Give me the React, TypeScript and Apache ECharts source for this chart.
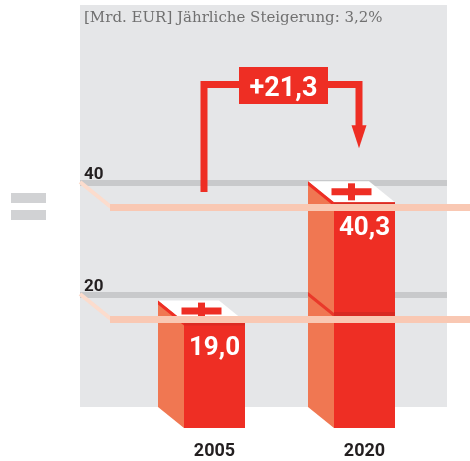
import React, { useEffect, useRef } from "react";
import * as echarts from "echarts";

const categories = ["2005", "2020"];
const values = [19.0, 40.3];
const gridTicks = [20, 40];
const title = "[Mrd. EUR] Jährliche Steigerung: 3,2%";

const RED = "#ee2e24";
const SIDE = "#f07752";
const PEACH = "#f9c8b3";
const HALF = 30.5;
const DX = 26;
const DY = 21;

const fmt = (v: number) => v.toFixed(1).replace(".", ",");

export default function App() {
  const ref = useRef<HTMLDivElement>(null);
  useEffect(() => {
    if (!ref.current) return;
    const chart = echarts.init(ref.current, null, { renderer: "svg" });
    const option: any = {
      animation: false,
      grid: { left: 139.5, top: 15, width: 300, height: 392 },
      xAxis: {
        type: "category",
        data: categories,
        axisLine: { show: false },
        axisTick: { show: false },
        axisLabel: {
          margin: 34,
          fontSize: 18,
          lineHeight: 16,
          fontWeight: "bold",
          fontFamily: "Roboto",
          color: "#231f20",
        },
      },
      yAxis: {
        type: "value",
        min: 0,
        max: 70,
        show: false,
        splitLine: { show: false },
      },
      graphic: [
        { type: "rect", z: -10, shape: { x: 80, y: 5, width: 367, height: 402 }, style: { fill: "#e5e6e8" } },
        { type: "rect", shape: { x: 11, y: 193, width: 35, height: 10 }, style: { fill: "#d1d2d4" } },
        { type: "rect", shape: { x: 11, y: 210, width: 35, height: 10 }, style: { fill: "#d1d2d4" } },
        {
          type: "text",
          x: 84,
          y: 17,
          style: {
            text: title,
            fill: "#707070",
            font: '15px "DejaVu Serif"',
            textVerticalAlign: "middle",
          },
        },
      ],
      series: [
        {
          type: "custom",
          z: 2,
          data: gridTicks.map((t) => [0, t]),
          renderItem: (params: any, api: any) => {
            const t = api.value(1);
            const y = api.coord([0, t])[1];
            return {
              type: "group",
              children: [
                { type: "rect", shape: { x: 80, y: y - 3, width: 367, height: 6 }, style: { fill: "#c8c9cb" } },
                {
                  type: "line",
                  shape: { x1: 80, y1: y - 1, x2: 111, y2: y + 24 },
                  style: { stroke: "#fcdccd", lineWidth: 4 },
                },
                {
                  type: "text",
                  x: 84,
                  y: y - 10,
                  style: {
                    text: String(t),
                    fill: "#231f20",
                    font: 'bold 17px "Roboto"',
                    textVerticalAlign: "middle",
                  },
                },
              ],
            };
          },
        },
        {
          type: "custom",
          z: 3,
          data: values.map((v, i) => [i, v]),
          renderItem: (params: any, api: any) => {
            const i = api.value(0);
            const v = api.value(1);
            const base = api.coord([i, 0]);
            const top = api.coord([i, v]);
            const cx = base[0];
            const fx0 = cx - HALF;
            const fx1 = cx + HALF;
            const yT = top[1] + DY;
            const yB = base[1] + DY;
            const bx0 = fx0 - DX;
            const bx1 = fx1 - DX;
            const children: any[] = [
              {
                type: "polygon",
                shape: { points: [[bx0, top[1]], [fx0, yT], [fx0, yB], [bx0, base[1]]] },
                style: { fill: SIDE },
              },
              { type: "rect", shape: { x: fx0, y: yT, width: fx1 - fx0, height: yB - yT }, style: { fill: RED } },
            ];
            gridTicks.forEach((t) => {
              if (v - t > 1) {
                const yl = api.coord([i, t])[1];
                children.push({
                  type: "polygon",
                  shape: { points: [[bx0, yl - 3], [fx0, yl - 3 + DY], [fx0, yl + 1 + DY], [bx0, yl + 1]] },
                  style: { fill: "#e9392a" },
                });
                children.push({
                  type: "rect",
                  shape: { x: fx0, y: yl + DY - 4, width: fx1 - fx0, height: 4 },
                  style: { fill: "#d82a21" },
                });
              }
            });
            const tcx = cx - DX / 2;
            const tcy = top[1] + DY / 2;
            children.push(
              {
                type: "polygon",
                shape: { points: [[bx0, top[1]], [bx1, top[1]], [fx1, yT], [fx0, yT]] },
                style: { fill: "#ffffff" },
              },
              {
                type: "polygon",
                shape: { points: [[bx0, top[1]], [fx0, yT], [fx0, yT + 4], [bx0, top[1] + 4]] },
                style: { fill: RED },
              },
              { type: "rect", shape: { x: fx0, y: yT, width: fx1 - fx0, height: 4 }, style: { fill: "#dc2b22" } },
              { type: "rect", shape: { x: tcx - 20, y: tcy - 3.5, width: 40, height: 7 }, style: { fill: RED } },
              { type: "rect", shape: { x: tcx - 3.5, y: tcy - 8.5, width: 7, height: 17 }, style: { fill: RED } },
              {
                type: "text",
                x: cx,
                y: yT + 24,
                style: {
                  text: fmt(v),
                  fill: "#ffffff",
                  font: 'bold 26px "Roboto"',
                  textAlign: "center",
                  textVerticalAlign: "middle",
                },
              }
            );
            if (params.dataIndex === values.length - 1) {
              const x0 = api.coord([0, 0])[0] - 10.5;
              const x1 = cx - 5.5;
              const tipY = top[1] - 33;
              const hy = 84.5;
              const mid = (x0 + x1) / 2 + 2;
              children.push(
                {
                  type: "polyline",
                  shape: { points: [[x0, 192], [x0, hy], [x1, hy], [x1, tipY - 22]] },
                  style: { stroke: RED, lineWidth: 7, fill: "none", lineJoin: "miter" },
                },
                {
                  type: "polygon",
                  shape: { points: [[x1 - 7.5, tipY - 23], [x1 + 7.5, tipY - 23], [x1, tipY]] },
                  style: { fill: RED },
                },
                { type: "rect", shape: { x: mid - 44.5, y: 67, width: 89, height: 37 }, style: { fill: RED } },
                {
                  type: "text",
                  x: mid,
                  y: 86.5,
                  style: {
                    text: "+" + fmt(values[1] - values[0]),
                    fill: "#ffffff",
                    font: 'bold 27px "Roboto"',
                    textAlign: "center",
                    textVerticalAlign: "middle",
                  },
                }
              );
            }
            return { type: "group", children };
          },
        },
        {
          type: "custom",
          z: 4,
          data: gridTicks.map((t) => [0, t]),
          renderItem: (params: any, api: any) => {
            const y = api.coord([0, api.value(1)])[1];
            return {
              type: "rect",
              shape: { x: 110, y: y + 21, width: 360, height: 7 },
              style: { fill: PEACH },
            };
          },
        },
      ],
    };
    chart.setOption(option);
    return () => chart.dispose();
  }, []);
  return <div ref={ref} style={{ position: "fixed", left: 0, top: 0, width: 470, height: 461 }} />;
}
